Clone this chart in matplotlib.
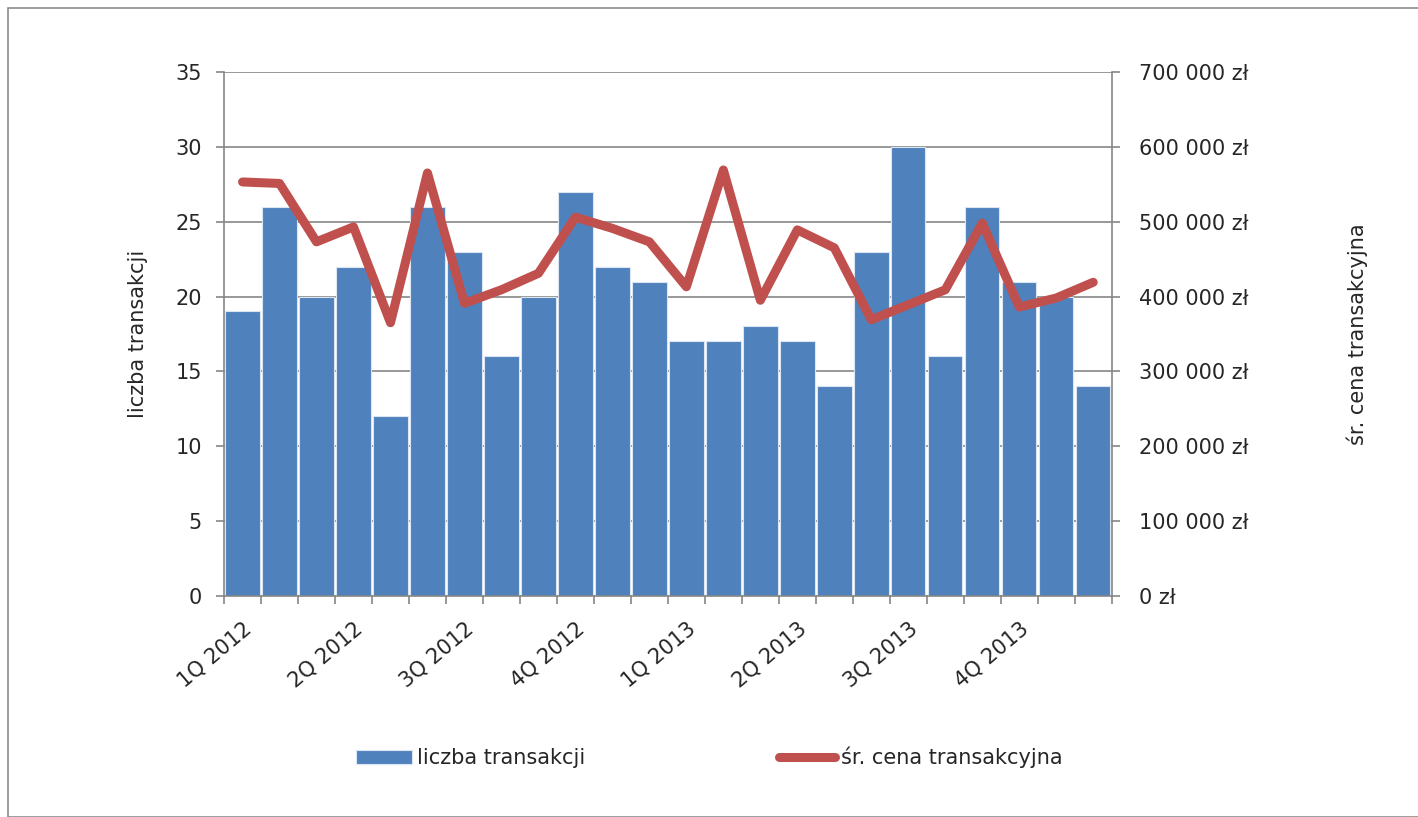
import numpy as np
import matplotlib.pyplot as plt
from matplotlib.ticker import FuncFormatter, MultipleLocator
from matplotlib.patches import Rectangle

# dane miesięczne 2012-2013
quarter_labels = ['1Q 2012', '2Q 2012', '3Q 2012', '4Q 2012',
                  '1Q 2013', '2Q 2013', '3Q 2013', '4Q 2013']
liczba = [19, 26, 20, 22, 12, 26, 23, 16, 20, 27, 22, 21,
          17, 17, 18, 17, 14, 23, 30, 16, 26, 21, 20, 14]
cena = [553000, 551000, 473000, 493000, 365000, 565000, 391000, 409000,
        431000, 506000, 491000, 473000, 413000, 569000, 395000, 489000,
        465000, 369000, 389000, 409000, 498000, 386000, 398000, 419000]

blue = '#4F81BD'
red = '#C0504D'
grey = '#868686'
txt = '#262626'

plt.rcParams['font.family'] = ['DejaVu Sans']

fig = plt.figure(figsize=(14.18, 8.17), dpi=100)
fig.patches.append(Rectangle((8/1418, 0), 1.2, 1 - 8/817, transform=fig.transFigure,
                             fill=False, edgecolor='#8c8c8c', linewidth=1.2))

ax = fig.add_axes([0.158, 0.2705, 0.626, 0.6415])
x = np.arange(len(liczba))

ax.bar(x, liczba, width=0.93, color=blue, edgecolor='#dbe6f2', linewidth=0.8,
       zorder=2, label='liczba transakcji')
ax.set_xlim(-0.5, len(liczba) - 0.5)
ax.set_ylim(0, 35)
ax.yaxis.set_major_locator(MultipleLocator(5))
ax.grid(axis='y', color=grey, linewidth=1.2, zorder=0)
ax.set_axisbelow(True)

ax.set_xticks(x[::3])
ax.set_xticklabels(quarter_labels, rotation=40, ha='right', rotation_mode='anchor',
                   fontsize=15, color=txt)
ax.tick_params(axis='x', which='major', length=0, pad=16)
ax.set_xticks(np.arange(-0.5, len(liczba)), minor=True)
ax.tick_params(axis='x', which='minor', length=6, color=grey, width=1.2)
ax.tick_params(axis='y', length=6, color=grey, width=1.2, labelsize=15,
               labelcolor=txt, pad=10)
ax.set_ylabel('liczba transakcji', fontsize=15, color=txt, labelpad=20)

for s in ['top', 'right']:
    ax.spines[s].set_visible(False)
for s in ['left', 'bottom']:
    ax.spines[s].set_color(grey)
    ax.spines[s].set_linewidth(1.2)

ax2 = ax.twinx()
ax2.plot(x, cena, color=red, linewidth=6.5, solid_capstyle='round',
         solid_joinstyle='round', zorder=3, label='śr. cena transakcyjna')
ax2.set_ylim(0, 700000)
ax2.yaxis.set_major_locator(MultipleLocator(100000))
ax2.yaxis.set_major_formatter(FuncFormatter(
    lambda v, p: '0 zł' if v == 0 else '{:,.0f} zł'.format(v).replace(',', ' ')))
ax2.tick_params(axis='y', length=6, color=grey, width=1.2, labelsize=15,
                labelcolor=txt, pad=14)
ax2.set_ylabel('śr. cena transakcyjna', fontsize=15, color=txt, labelpad=70)
for s in ['top', 'left', 'bottom']:
    ax2.spines[s].set_visible(False)
ax2.spines['right'].set_color(grey)
ax2.spines['right'].set_linewidth(1.2)

h1, l1 = ax.get_legend_handles_labels()
h2, l2 = ax2.get_legend_handles_labels()
fig.legend(h1 + h2, l1 + l2, loc='center', bbox_to_anchor=(0.5, 0.073), ncol=2,
           frameon=False, fontsize=15, columnspacing=9.3, handlelength=2.7,
           handletextpad=0.25, labelcolor=txt)

fig.savefig('out.png', dpi=100)
